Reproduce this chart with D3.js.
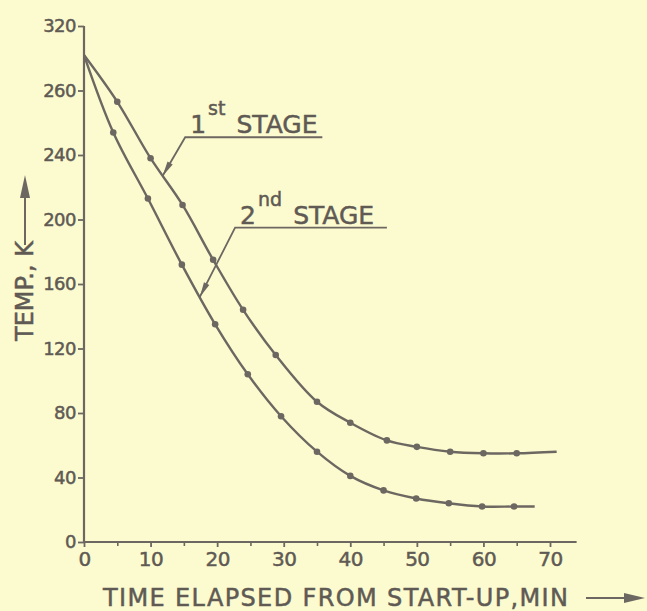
<!DOCTYPE html>
<html>
<head>
<meta charset="utf-8">
<script src="https://cdn.jsdelivr.net/npm/d3@7"></script>
<style>
  html, body { margin: 0; padding: 0; background: #fcfbd0; }
  text { font-family: "DejaVu Sans", sans-serif; fill: #5f5a54; stroke: #5f5a54; stroke-width: 0.5px; }
</style>
</head>
<body>
<div id="chart"></div>
<script>
// 1: DATA
const stage1Time = [0, 5, 10, 14.8, 19.4, 23.9, 28.8, 35, 40, 45.5, 50, 55, 60, 65, 71];
const stage1Temp = [302, 273, 238, 209, 175, 144, 116, 87, 74, 63, 59, 56, 55, 55, 56];
const stage2Time = [0, 4.4, 9.6, 14.7, 19.7, 24.6, 29.6, 35, 40, 45, 49.9, 54.8, 59.8, 64.6, 67.7];
const stage2Temp = [302, 254, 213, 172, 135, 104, 78, 56, 41, 32, 27, 24, 22, 22, 22];

const xTicks = [0, 10, 20, 30, 40, 50, 60, 70];
const xMinorTicks = [5, 15, 25, 35, 45, 55, 65];
const yTicks = [0, 40, 80, 120, 160, 200, 240, 280, 320];
const yTickLabels = ["0", "40", "80", "120", "160", "200", "240", "260", "320"]; // as printed

const stageLabels = [
  { num: "1", sup: "st", word: "STAGE", lineX: [15.2, 35.8], lineY: 251, tip: [11.8, 227] },
  { num: "2", sup: "nd", word: "STAGE", lineX: [22.7, 45.5], lineY: 195, tip: [17.4, 152] }
];

const xTitle = "TIME ELAPSED FROM START-UP,MIN";
const yTitle = "TEMP., K";

// 2: SETUP
const W = 647, H = 611;
const ink = "#6c6761";

const svg = d3.select("#chart").append("svg")
  .attr("width", W)
  .attr("height", H)
  .style("display", "block")
  .style("background", "#fcfbd0");

const x = d3.scaleLinear().domain([0, 70]).range([84, 550]);
const y = d3.scaleLinear().domain([0, 320]).range([542, 26]);

// 3: AXES
const yAxis = svg.append("g")
  .attr("transform", `translate(${x(0)},0)`)
  .call(d3.axisLeft(y).tickValues(yTicks).tickSize(6).tickPadding(2)
    .tickFormat((d, i) => yTickLabels[i]));
yAxis.select(".domain").remove();
yAxis.selectAll("line").attr("stroke", ink).attr("stroke-width", 1.8);
yAxis.selectAll("text").style("font-size", "18px").attr("fill", "#5f5a54")
  .style("letter-spacing", "-0.5px");

svg.append("line")
  .attr("x1", x(0)).attr("x2", x(0))
  .attr("y1", y(0)).attr("y2", y(320))
  .attr("stroke", ink).attr("stroke-width", 2.2);

const xAxis = svg.append("g")
  .attr("transform", `translate(0,${y(0)})`)
  .call(d3.axisBottom(x).tickValues(xTicks).tickSize(5).tickPadding(5)
    .tickFormat(d3.format("d")));
xAxis.select(".domain").remove();
xAxis.selectAll("line").attr("stroke", ink).attr("stroke-width", 1.8);
xAxis.selectAll("text").style("font-size", "20px").attr("fill", "#5f5a54")
  .style("letter-spacing", "-0.5px");

svg.append("g")
  .attr("transform", `translate(0,${y(0)})`)
  .call(d3.axisBottom(x).tickValues(xMinorTicks).tickSize(4).tickFormat(""))
  .call(g => g.select(".domain").remove())
  .selectAll("line").attr("stroke", ink).attr("stroke-width", 1.6);

svg.append("line")
  .attr("x1", x(0)).attr("x2", x(74))
  .attr("y1", y(0)).attr("y2", y(0))
  .attr("stroke", ink).attr("stroke-width", 2.2);

// 4: CURVES + MEASURED POINTS
const line = d3.line()
  .x(d => x(d[0]))
  .y(d => y(d[1]))
  .curve(d3.curveCatmullRom.alpha(0.5));

[[stage1Time, stage1Temp], [stage2Time, stage2Temp]].forEach(([t, v]) => {
  const pts = t.map((d, i) => [d, v[i]]);
  svg.append("path")
    .attr("d", line(pts))
    .attr("fill", "none")
    .attr("stroke", ink)
    .attr("stroke-width", 2.4);
  svg.append("g").selectAll("circle")
    .data(pts.slice(1, -1))
    .enter().append("circle")
    .attr("cx", d => x(d[0]))
    .attr("cy", d => y(d[1]))
    .attr("r", 3.3)
    .attr("fill", ink);
});

// 5: STAGE LABELS WITH LEADER ARROWS
stageLabels.forEach(s => {
  const x0 = x(s.lineX[0]), x1 = x(s.lineX[1]), yy = y(s.lineY);
  const tx = x(s.tip[0]), ty = y(s.tip[1]);
  svg.append("path")
    .attr("d", `M${x1},${yy}H${x0}L${tx},${ty}`)
    .attr("fill", "none")
    .attr("stroke", ink)
    .attr("stroke-width", 1.8);
  // elongated arrow head
  const ang = Math.atan2(ty - yy, tx - x0);
  const len = 15, half = 3;
  const bx = tx - len * Math.cos(ang), by = ty - len * Math.sin(ang);
  const nx = -Math.sin(ang) * half, ny = Math.cos(ang) * half;
  svg.append("path")
    .attr("d", `M${tx},${ty}L${bx + nx},${by + ny}L${bx - nx},${by - ny}Z`)
    .attr("fill", ink);

  const t = svg.append("text")
    .attr("x", x0 + 5)
    .attr("y", yy - 4)
    .style("font-size", "25px");
  t.append("tspan").text(s.num);
  t.append("tspan").attr("dy", -18).attr("dx", 2).style("font-size", "19px").text(s.sup);
  t.append("tspan").attr("dy", 18).attr("dx", 11).text(s.word);
});

// 6: AXIS TITLES
svg.append("text")
  .attr("x", 103)
  .attr("y", 606)
  .attr("textLength", 465)
  .attr("lengthAdjust", "spacing")
  .style("font-size", "24px")
  .text(xTitle);

svg.append("line")
  .attr("x1", 586).attr("x2", 630)
  .attr("y1", 598).attr("y2", 598)
  .attr("stroke", ink).attr("stroke-width", 2);
svg.append("path")
  .attr("d", "M645,598L624,593L624,603Z")
  .attr("fill", ink);

svg.append("text")
  .attr("transform", "translate(33,341) rotate(-90)")
  .style("font-size", "24px")
  .text(yTitle);

svg.append("line")
  .attr("x1", 25).attr("x2", 25)
  .attr("y1", 245).attr("y2", 195)
  .attr("stroke", ink).attr("stroke-width", 2);
svg.append("path")
  .attr("d", "M25,175L20,198L30,198Z")
  .attr("fill", ink);
</script>
</body>
</html>
